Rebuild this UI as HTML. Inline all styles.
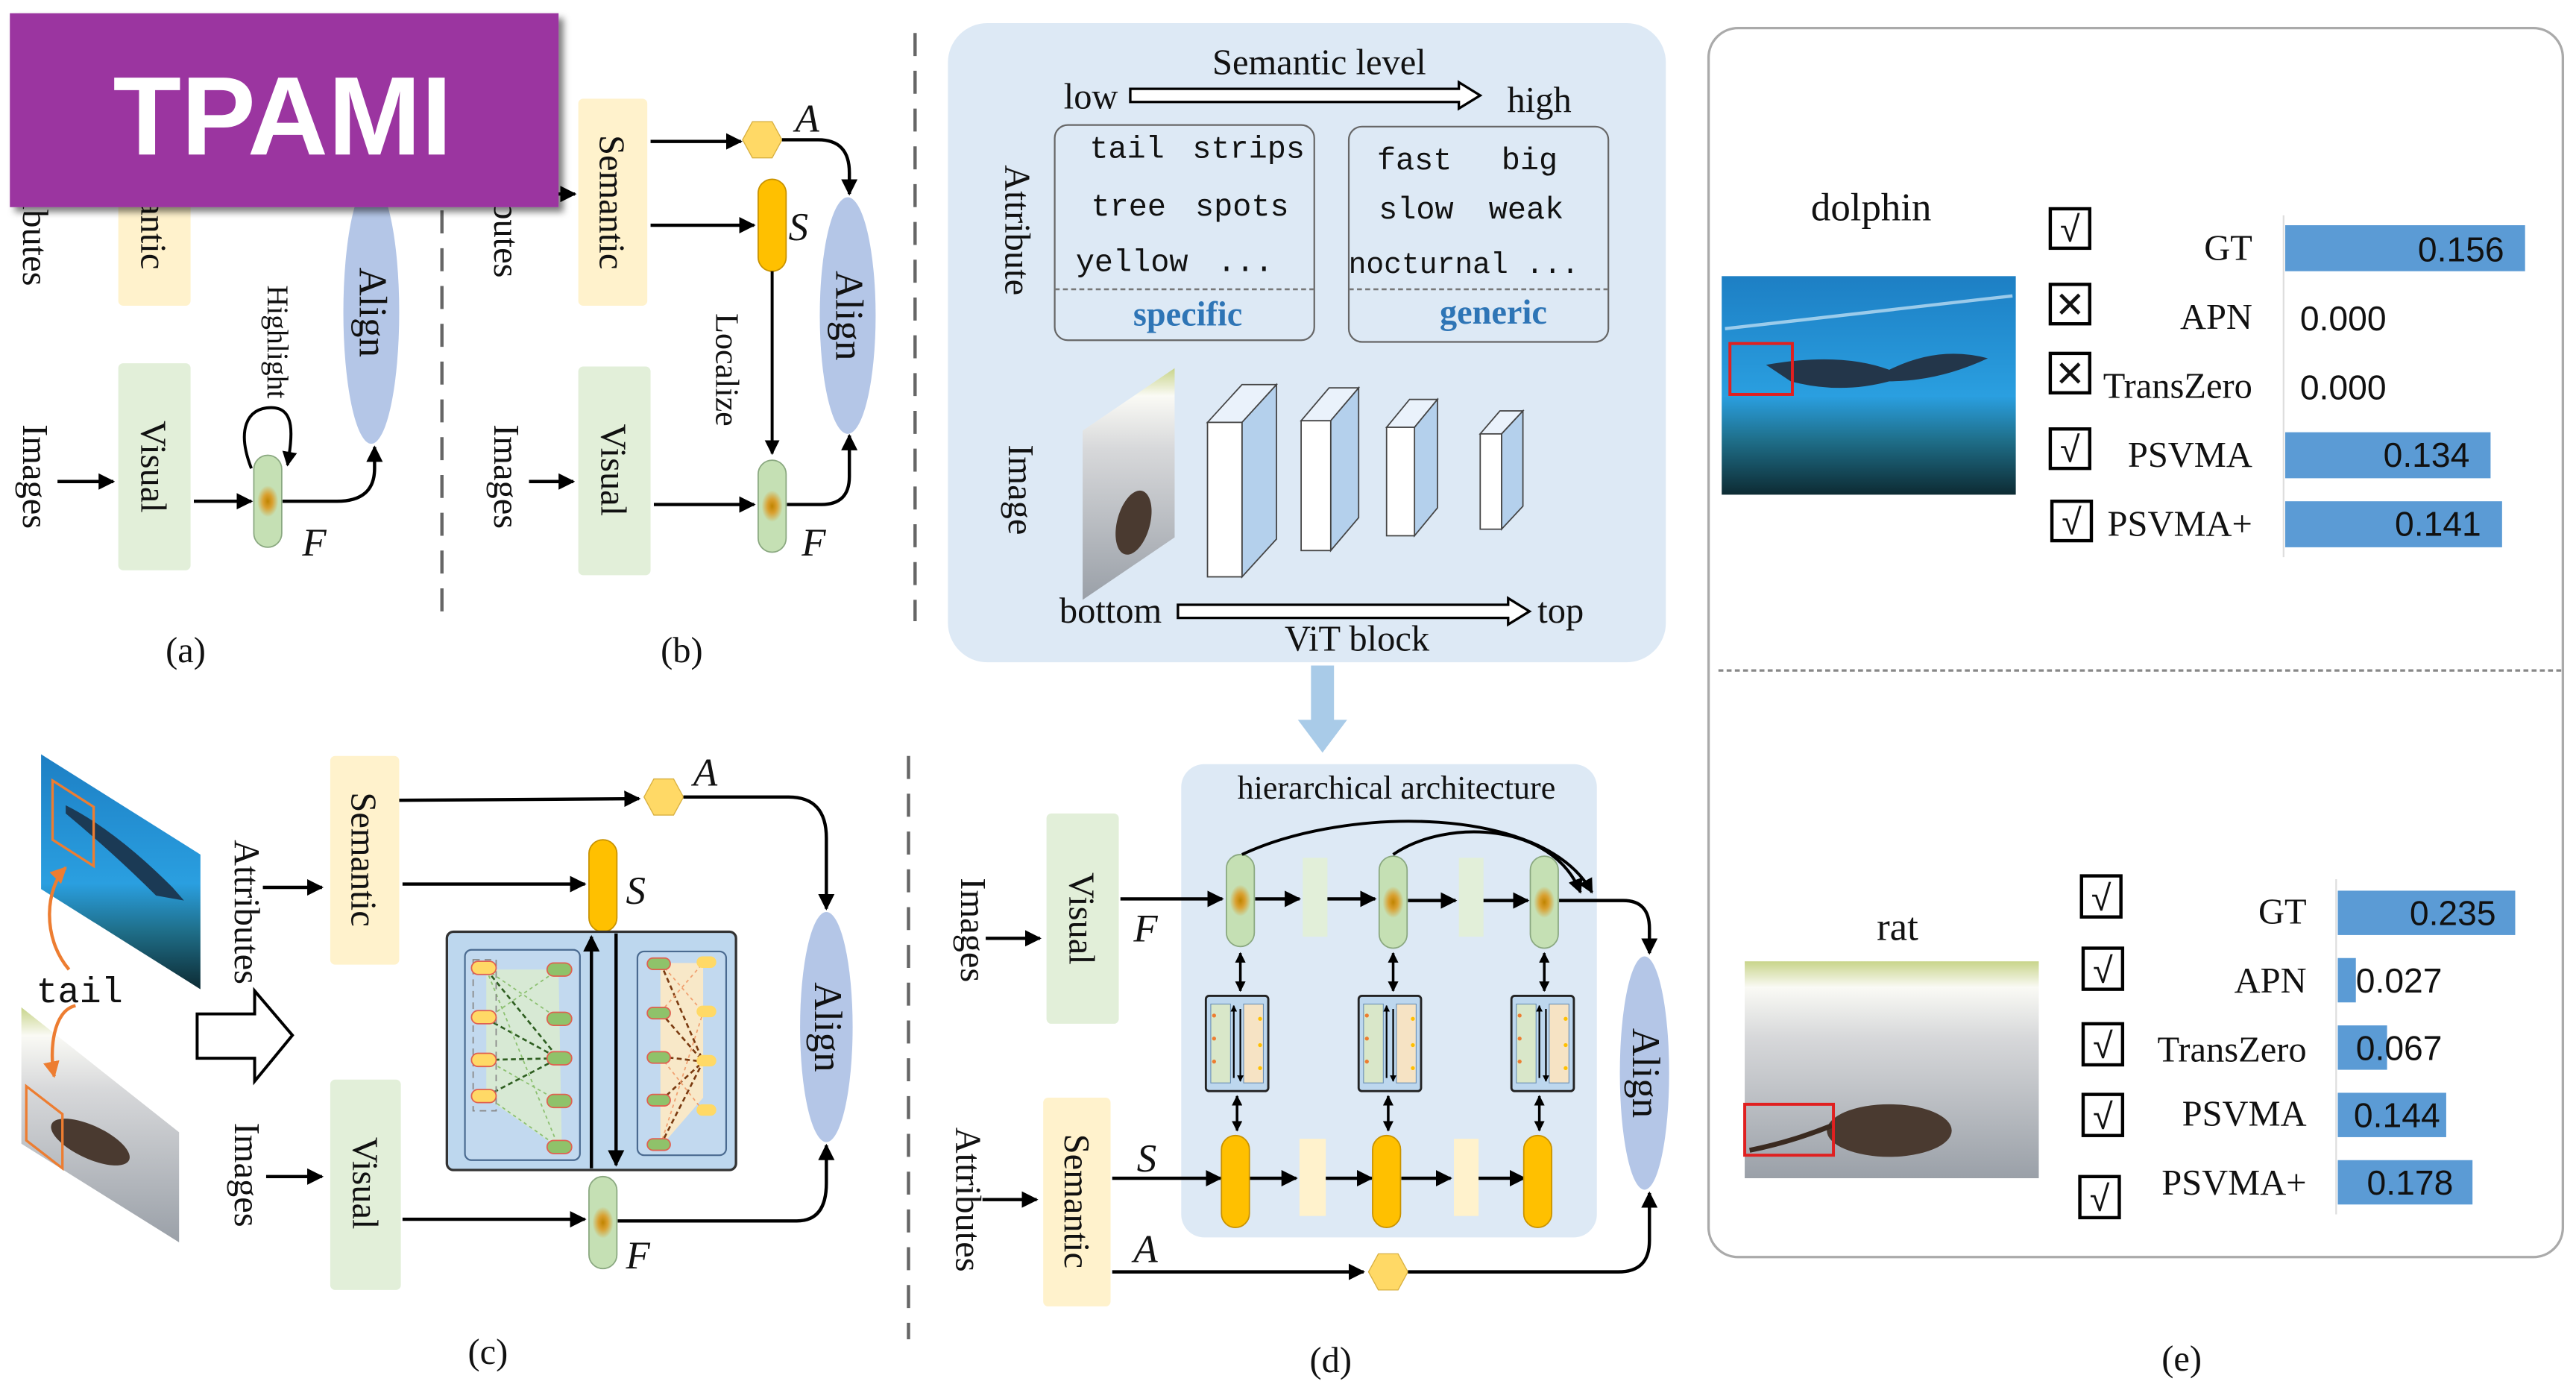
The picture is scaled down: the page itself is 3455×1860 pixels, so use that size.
<!DOCTYPE html>
<html><head><meta charset="utf-8"><style>
html,body{margin:0;padding:0;background:#fff;}
svg{display:block;}
text{font-family:"Liberation Serif",serif;fill:#111;}
.m{font-family:"Liberation Mono",monospace;}
.s{font-family:"Liberation Sans",sans-serif;}
.i{font-style:italic;}
</style></head><body>
<svg width="3455" height="1860" viewBox="0 0 1568 844" xmlns="http://www.w3.org/2000/svg">
<defs>
<marker id="ar" viewBox="0 0 10 10" refX="9" refY="5" markerWidth="5" markerHeight="5" orient="auto-start-reverse"><path d="M0,0L10,5L0,10z" fill="#000"/></marker>
<marker id="ars" viewBox="0 0 10 10" refX="9" refY="5" markerWidth="4" markerHeight="4" orient="auto-start-reverse"><path d="M0,0L10,5L0,10z" fill="#000"/></marker>
<marker id="aro" viewBox="0 0 10 10" refX="9" refY="5" markerWidth="5" markerHeight="5" orient="auto"><path d="M0,0L10,5L0,10z" fill="#ed7d31"/></marker>
<radialGradient id="fg" cx="0.5" cy="0.5" r="0.5"><stop offset="0" stop-color="#c08400"/><stop offset="0.35" stop-color="#d9a030"/><stop offset="0.8" stop-color="#c5e0b4"/></radialGradient>
<linearGradient id="dol" x1="0" y1="0" x2="0" y2="1"><stop offset="0" stop-color="#1d7fc4"/><stop offset="0.55" stop-color="#2a9fe0"/><stop offset="0.75" stop-color="#1f6f8a"/><stop offset="1" stop-color="#0d2b33"/></linearGradient>
<linearGradient id="rat" x1="0" y1="0" x2="0" y2="1"><stop offset="0" stop-color="#c8d48a"/><stop offset="0.12" stop-color="#fafaf5"/><stop offset="0.35" stop-color="#d7d8da"/><stop offset="1" stop-color="#9aa0a8"/></linearGradient>
<filter id="sh" x="-5%" y="-5%" width="115%" height="125%"><feDropShadow dx="3" dy="3" stdDeviation="2" flood-color="#000" flood-opacity="0.5"/></filter>
<g id="cF"><rect x="-8.5" y="-28" width="17" height="56" rx="8.5" fill="#c5e0b4" stroke="#8aa880" stroke-width="0.8"/><ellipse cx="0" cy="0" rx="8" ry="12" fill="url(#fg)"/></g>
<g id="cS"><rect x="-8.5" y="-28" width="17" height="56" rx="8.5" fill="#ffc000" stroke="#c89200" stroke-width="0.8"/></g>
<g id="hx"><polygon points="-12,0 -6,-11 6,-11 12,0 6,11 -6,11" fill="#ffd966" stroke="#d8b040" stroke-width="0.6"/></g>
<g id="mod"><rect x="0" y="0" width="38" height="58" rx="2" fill="#bdd7ee" stroke="#222" stroke-width="1.3"/><rect x="3" y="5" width="12" height="48" fill="#d9e7c9" stroke="#6a8fb5" stroke-width="0.5"/><rect x="23" y="5" width="12" height="48" fill="#f6e3c4" stroke="#6a8fb5" stroke-width="0.5"/><circle cx="5" cy="12" r="1.2" fill="#ed7d31"/><circle cx="5" cy="26" r="1.2" fill="#ed7d31"/><circle cx="5" cy="40" r="1.2" fill="#ed7d31"/><circle cx="33" cy="14" r="1.2" fill="#ffc000"/><circle cx="33" cy="30" r="1.2" fill="#ffc000"/><circle cx="33" cy="44" r="1.2" fill="#ffc000"/><line x1="17" y1="50" x2="17" y2="6" stroke="#000" stroke-width="1" marker-end="url(#ars)"/><line x1="21" y1="8" x2="21" y2="52" stroke="#000" stroke-width="1" marker-end="url(#ars)"/></g>
</defs>

<!-- ===== (a) ===== -->
<rect x="72" y="60" width="44" height="126" rx="3" fill="#fff2cc"/>
<text transform="translate(86,123) rotate(90)" font-size="22" text-anchor="middle">Semantic</text>
<text transform="translate(14,130) rotate(90)" font-size="22" text-anchor="middle">Attributes</text>
<rect x="72" y="221" width="44" height="126" rx="3" fill="#e2efd9"/>
<text transform="translate(86,284) rotate(90)" font-size="22" text-anchor="middle">Visual</text>
<text transform="translate(14,290) rotate(90)" font-size="22" text-anchor="middle">Images</text>
<line x1="35" y1="293" x2="69" y2="293" stroke="#000" stroke-width="2" marker-end="url(#ar)"/>
<line x1="118" y1="305" x2="153" y2="305" stroke="#000" stroke-width="2" marker-end="url(#ar)"/>
<use href="#cF" x="163" y="305"/>
<path d="M172,305 L205,305 Q228,305 228,285 L228,272" fill="none" stroke="#000" stroke-width="2" marker-end="url(#ar)"/>
<path d="M153,285 C144,262 150,248 165,248 C180,248 178,265 175,283" fill="none" stroke="#000" stroke-width="1.8" marker-end="url(#ar)"/>
<text transform="translate(163,208) rotate(90)" font-size="18" text-anchor="middle">Highlight</text>
<ellipse cx="226" cy="190" rx="17" ry="80" fill="#b4c6e7"/>
<text transform="translate(219,190) rotate(90)" font-size="24" text-anchor="middle">Align</text>
<text x="184" y="338" font-size="24" class="i">F</text>
<text x="113" y="403" font-size="22" text-anchor="middle">(a)</text>
<line x1="269" y1="128" x2="269" y2="374" stroke="#666" stroke-width="2" stroke-dasharray="14,9"/>

<!-- ===== (b) ===== -->
<line x1="338" y1="118" x2="350" y2="118" stroke="#000" stroke-width="2" marker-end="url(#ar)"/>
<rect x="352" y="60" width="42" height="126" rx="3" fill="#fff2cc"/>
<text transform="translate(365,123) rotate(90)" font-size="22" text-anchor="middle">Semantic</text>
<text transform="translate(301,125) rotate(90)" font-size="22" text-anchor="middle">Attributes</text>
<rect x="352" y="223" width="44" height="127" rx="3" fill="#e2efd9"/>
<text transform="translate(366,286) rotate(90)" font-size="22" text-anchor="middle">Visual</text>
<text transform="translate(301,290) rotate(90)" font-size="22" text-anchor="middle">Images</text>
<line x1="322" y1="293" x2="349" y2="293" stroke="#000" stroke-width="2" marker-end="url(#ar)"/>
<line x1="396" y1="86" x2="451" y2="86" stroke="#000" stroke-width="2" marker-end="url(#ar)"/>
<use href="#hx" x="464" y="85"/>
<text x="484" y="80" font-size="24" class="i">A</text>
<line x1="396" y1="137" x2="459" y2="137" stroke="#000" stroke-width="2" marker-end="url(#ar)"/>
<use href="#cS" x="470" y="137"/>
<text x="480" y="146" font-size="24" class="i">S</text>
<line x1="470" y1="165" x2="470" y2="276" stroke="#000" stroke-width="1.8" marker-end="url(#ar)"/>
<text transform="translate(436,225) rotate(90)" font-size="20" text-anchor="middle">Localize</text>
<line x1="398" y1="307" x2="459" y2="307" stroke="#000" stroke-width="2" marker-end="url(#ar)"/>
<use href="#cF" x="470" y="308"/>
<path d="M476,85 L498,85 Q517,85 517,105 L517,118" fill="none" stroke="#000" stroke-width="2" marker-end="url(#ar)"/>
<path d="M479,307 L500,307 Q517,307 517,290 L517,265" fill="none" stroke="#000" stroke-width="2" marker-end="url(#ar)"/>
<ellipse cx="516" cy="192" rx="17" ry="72" fill="#b4c6e7"/>
<text transform="translate(509,192) rotate(90)" font-size="24" text-anchor="middle">Align</text>
<text x="488" y="338" font-size="24" class="i">F</text>
<text x="415" y="403" font-size="22" text-anchor="middle">(b)</text>
<line x1="557" y1="20" x2="557" y2="378" stroke="#666" stroke-width="2" stroke-dasharray="14,9"/>

<!-- TPAMI banner -->
<rect x="6" y="8" width="334" height="118" fill="#9b35a0" filter="url(#sh)"/>
<text x="172" y="94" font-size="68" font-weight="bold" text-anchor="middle" class="s" style="fill:#fff">TPAMI</text>

<!-- ===== (c) ===== -->
<polygon points="25,459 122,520 122,602 25,541" fill="url(#dol)"/>
<path d="M40,490 Q70,505 105,540 L112,548 L95,545 Q70,520 40,495z" fill="#1b3a55"/>
<polygon points="32,475 57,491 57,527 32,511" fill="none" stroke="#ed7d31" stroke-width="1.5"/>
<polygon points="13,613 109,689 109,756 13,696" fill="url(#rat)"/>
<ellipse cx="55" cy="695" rx="26" ry="10" transform="rotate(25 55 695)" fill="#4a3a30"/>
<polygon points="16,661 38,678 38,711 16,694" fill="none" stroke="#ed7d31" stroke-width="1.5"/>
<text x="22" y="610" font-size="22" class="m">tail</text>
<path d="M42,590 C25,570 28,540 40,528" fill="none" stroke="#ed7d31" stroke-width="2" marker-end="url(#aro)"/>
<path d="M46,612 C32,615 30,640 33,655" fill="none" stroke="#ed7d31" stroke-width="2" marker-end="url(#aro)"/>
<text transform="translate(143,555) rotate(90)" font-size="22" text-anchor="middle">Attributes</text>
<line x1="160" y1="540" x2="196" y2="540" stroke="#000" stroke-width="2" marker-end="url(#ar)"/>
<rect x="201" y="460" width="42" height="127" rx="3" fill="#fff2cc"/>
<text transform="translate(214,523) rotate(90)" font-size="22" text-anchor="middle">Semantic</text>
<polygon points="120,617 155,617 155,603 178,630 155,658 155,644 120,644" fill="#fff" stroke="#000" stroke-width="1.8"/>
<text transform="translate(143,715) rotate(90)" font-size="22" text-anchor="middle">Images</text>
<line x1="162" y1="716" x2="196" y2="716" stroke="#000" stroke-width="2" marker-end="url(#ar)"/>
<rect x="201" y="657" width="43" height="128" rx="3" fill="#e2efd9"/>
<text transform="translate(215,720) rotate(90)" font-size="22" text-anchor="middle">Visual</text>
<line x1="243" y1="487" x2="389" y2="486" stroke="#000" stroke-width="2" marker-end="url(#ar)"/>
<use href="#hx" x="404" y="485"/>
<text x="422" y="478" font-size="24" class="i">A</text>
<line x1="245" y1="538" x2="356" y2="538" stroke="#000" stroke-width="2" marker-end="url(#ar)"/>
<use href="#cS" x="367" y="539"/>
<text x="381" y="550" font-size="24" class="i">S</text>
<line x1="245" y1="742" x2="356" y2="742" stroke="#000" stroke-width="2" marker-end="url(#ar)"/>
<use href="#cF" x="367" y="744"/>
<text x="381" y="772" font-size="24" class="i">F</text>
<!-- center module -->
<rect x="272" y="567" width="176" height="145" rx="4" fill="#bdd7ee" stroke="#333" stroke-width="1.5"/>
<rect x="283" y="578" width="70" height="128" rx="4" fill="#c2d9ef" stroke="#4a6a90" stroke-width="1"/>
<rect x="388" y="579" width="54" height="124" rx="4" fill="#c2d9ef" stroke="#4a6a90" stroke-width="1"/>
<polygon points="296,590 340,590 342,700 296,668" fill="#d9ead0" opacity="0.9"/>
<g stroke="#2e5e20" stroke-width="1.2" stroke-dasharray="3,2" fill="none"><line x1="296" y1="590" x2="340" y2="644"/><line x1="296" y1="620" x2="340" y2="644"/><line x1="296" y1="645" x2="340" y2="644"/><line x1="296" y1="667" x2="340" y2="644"/></g>
<g stroke="#8cc070" stroke-width="0.8" stroke-dasharray="2,2" fill="none"><line x1="296" y1="590" x2="340" y2="620"/><line x1="296" y1="620" x2="340" y2="590"/><line x1="296" y1="645" x2="340" y2="670"/><line x1="296" y1="667" x2="340" y2="698"/><line x1="296" y1="590" x2="340" y2="698"/></g>
<rect x="288" y="584" width="14" height="92" fill="none" stroke="#888" stroke-dasharray="4,3" stroke-width="0.8"/>
<g fill="#ffd966" stroke="#e06050" stroke-width="0.8"><rect x="287" y="585" width="15" height="8" rx="4"/><rect x="287" y="615" width="15" height="8" rx="4"/><rect x="287" y="641" width="15" height="8" rx="4"/><rect x="287" y="663" width="15" height="8" rx="4"/></g>
<g fill="#8fc26a" stroke="#e06050" stroke-width="0.8"><rect x="333" y="586" width="15" height="8" rx="4"/><rect x="333" y="616" width="15" height="8" rx="4"/><rect x="333" y="640" width="15" height="8" rx="4"/><rect x="333" y="666" width="15" height="8" rx="4"/><rect x="333" y="694" width="15" height="8" rx="4"/></g>
<polygon points="402,586 428,586 428,668 402,698" fill="#f8e8c8"/>
<g stroke="#7a3a10" stroke-width="1.2" stroke-dasharray="3,2" fill="none"><line x1="402" y1="586" x2="428" y2="646"/><line x1="402" y1="616" x2="428" y2="646"/><line x1="402" y1="643" x2="428" y2="646"/><line x1="402" y1="670" x2="428" y2="646"/><line x1="402" y1="697" x2="428" y2="646"/></g>
<g stroke="#f0a070" stroke-width="0.8" stroke-dasharray="2,2" fill="none"><line x1="402" y1="586" x2="428" y2="616"/><line x1="402" y1="616" x2="428" y2="586"/><line x1="402" y1="643" x2="428" y2="676"/><line x1="402" y1="697" x2="428" y2="616"/></g>
<g fill="#8fc26a" stroke="#e06050" stroke-width="0.8"><rect x="394" y="583" width="14" height="7" rx="3.5"/><rect x="394" y="613" width="14" height="7" rx="3.5"/><rect x="394" y="640" width="14" height="7" rx="3.5"/><rect x="394" y="666" width="14" height="7" rx="3.5"/><rect x="394" y="693" width="14" height="7" rx="3.5"/></g>
<g fill="#ffd966"><rect x="424" y="582" width="12" height="7" rx="3.5"/><rect x="424" y="612" width="12" height="7" rx="3.5"/><rect x="424" y="642" width="12" height="7" rx="3.5"/><rect x="424" y="672" width="12" height="7" rx="3.5"/></g>
<line x1="360" y1="711" x2="360" y2="570" stroke="#000" stroke-width="2" marker-end="url(#ar)"/>
<line x1="375" y1="568" x2="375" y2="709" stroke="#000" stroke-width="2" marker-end="url(#ar)"/>
<path d="M416,485 L480,485 Q503,485 503,510 L503,553" fill="none" stroke="#000" stroke-width="2" marker-end="url(#ar)"/>
<path d="M376,743 L485,743 Q503,743 503,720 L503,697" fill="none" stroke="#000" stroke-width="2" marker-end="url(#ar)"/>
<ellipse cx="503" cy="625" rx="16" ry="70" fill="#b4c6e7"/>
<text transform="translate(496,625) rotate(90)" font-size="24" text-anchor="middle">Align</text>
<text x="297" y="830" font-size="22" text-anchor="middle">(c)</text>
<line x1="553" y1="460" x2="553" y2="815" stroke="#666" stroke-width="2" stroke-dasharray="14,9"/>

<!-- ===== (d) top ===== -->
<rect x="577" y="14" width="437" height="389" rx="24" fill="#dde9f5"/>
<text x="803" y="45" font-size="22" text-anchor="middle">Semantic level</text>
<text x="664" y="66" font-size="22" text-anchor="middle">low</text>
<polygon points="688,54 888,54 888,50 901,58 888,66 888,62 688,62" fill="#fff" stroke="#000" stroke-width="1.5"/>
<text x="937" y="68" font-size="22" text-anchor="middle">high</text>
<text transform="translate(612,140) rotate(90)" font-size="22" text-anchor="middle">Attribute</text>
<rect x="642" y="76" width="158" height="131" rx="8" fill="none" stroke="#666" stroke-width="1"/>
<rect x="821" y="77" width="158" height="131" rx="8" fill="none" stroke="#666" stroke-width="1"/>
<line x1="642" y1="176" x2="800" y2="176" stroke="#777" stroke-dasharray="3,2" stroke-width="1.2"/>
<line x1="821" y1="176" x2="979" y2="176" stroke="#777" stroke-dasharray="3,2" stroke-width="1.2"/>
<g class="m" font-size="19" text-anchor="middle">
<text x="686" y="96" class="m">tail</text><text x="760" y="96" class="m">strips</text>
<text x="687" y="131" class="m">tree</text><text x="756" y="131" class="m">spots</text>
<text x="689" y="165" class="m">yellow</text><text x="758" y="165" class="m">...</text>
<text x="861" y="103" class="m">fast</text><text x="931" y="103" class="m">big</text>
<text x="862" y="133" class="m">slow</text><text x="929" y="133" class="m">weak</text>
<text x="891" y="166" class="m" font-size="18">nocturnal ...</text>
</g>
<text x="723" y="198" font-size="21" font-weight="bold" text-anchor="middle" style="fill:#2e75b6">specific</text>
<text x="909" y="197" font-size="21" font-weight="bold" text-anchor="middle" style="fill:#2e75b6">generic</text>
<text transform="translate(614,298) rotate(90)" font-size="22" text-anchor="middle">Image</text>
<polygon points="659,262 715,224 715,327 659,365" fill="url(#rat)"/>
<ellipse cx="690" cy="318" rx="10" ry="20" transform="rotate(15 690 318)" fill="#4a3a30"/>
<g stroke="#444" stroke-width="0.8">
<polygon points="735,257 756,234 777,234 756,257" fill="#eaf2fb"/><polygon points="756,257 777,234 777,328 756,351" fill="#b4d0ec"/><rect x="735" y="257" width="21" height="94" fill="#fff"/>
<polygon points="792,256 809,236 827,236 810,256" fill="#eaf2fb"/><polygon points="810,256 827,236 827,315 810,335" fill="#b4d0ec"/><rect x="792" y="256" width="18" height="79" fill="#fff"/>
<polygon points="844,260 858,243 875,243 861,260" fill="#eaf2fb"/><polygon points="861,260 875,243 875,309 861,326" fill="#b4d0ec"/><rect x="844" y="260" width="17" height="66" fill="#fff"/>
<polygon points="901,264 913,250 927,250 914,264" fill="#eaf2fb"/><polygon points="914,264 927,250 927,308 914,322" fill="#b4d0ec"/><rect x="901" y="264" width="13" height="58" fill="#fff"/>
</g>
<text x="676" y="379" font-size="22" text-anchor="middle">bottom</text>
<polygon points="717,368 918,368 918,364 931,372 918,380 918,376 717,376" fill="#fff" stroke="#000" stroke-width="1.5"/>
<text x="950" y="379" font-size="22" text-anchor="middle">top</text>
<text x="826" y="396" font-size="22" text-anchor="middle">ViT block</text>
<polygon points="798,405 812,405 812,438 820,438 805,458 790,438 798,438" fill="#a9cbe8"/>

<!-- ===== (d) bottom ===== -->
<rect x="719" y="465" width="253" height="288" rx="14" fill="#dde9f5"/>
<text x="850" y="486" font-size="20" text-anchor="middle">hierarchical architecture</text>
<rect x="637" y="495" width="44" height="128" rx="3" fill="#e2efd9"/>
<text transform="translate(651,559) rotate(90)" font-size="22" text-anchor="middle">Visual</text>
<text transform="translate(585,566) rotate(90)" font-size="22" text-anchor="middle">Images</text>
<line x1="600" y1="571" x2="633" y2="571" stroke="#000" stroke-width="2" marker-end="url(#ar)"/>
<rect x="635" y="668" width="41" height="127" rx="3" fill="#fff2cc"/>
<text transform="translate(648,731) rotate(90)" font-size="22" text-anchor="middle">Semantic</text>
<text transform="translate(582,730) rotate(90)" font-size="22" text-anchor="middle">Attributes</text>
<line x1="598" y1="730" x2="631" y2="730" stroke="#000" stroke-width="2" marker-end="url(#ar)"/>
<rect x="793" y="522" width="15" height="48" fill="#e2efd9"/>
<rect x="888" y="522" width="15" height="48" fill="#e2efd9"/>
<rect x="791" y="693" width="16" height="47" fill="#fff2cc"/>
<rect x="885" y="693" width="15" height="47" fill="#fff2cc"/>
<line x1="682" y1="547" x2="744" y2="547" stroke="#000" stroke-width="2" marker-end="url(#ar)"/>
<line x1="764" y1="547" x2="791" y2="547" stroke="#000" stroke-width="2" marker-end="url(#ar)"/>
<line x1="808" y1="547" x2="837" y2="547" stroke="#000" stroke-width="2" marker-end="url(#ar)"/>
<line x1="857" y1="548" x2="886" y2="548" stroke="#000" stroke-width="2" marker-end="url(#ar)"/>
<line x1="903" y1="548" x2="930" y2="548" stroke="#000" stroke-width="2" marker-end="url(#ar)"/>
<use href="#cF" x="755" y="548"/>
<use href="#cF" x="848" y="549"/>
<use href="#cF" x="940" y="549"/>
<line x1="677" y1="717" x2="743" y2="717" stroke="#000" stroke-width="2" marker-end="url(#ar)"/>
<line x1="760" y1="717" x2="789" y2="717" stroke="#000" stroke-width="2" marker-end="url(#ar)"/>
<line x1="807" y1="717" x2="835" y2="717" stroke="#000" stroke-width="2" marker-end="url(#ar)"/>
<line x1="853" y1="717" x2="883" y2="717" stroke="#000" stroke-width="2" marker-end="url(#ar)"/>
<line x1="900" y1="717" x2="928" y2="717" stroke="#000" stroke-width="2" marker-end="url(#ar)"/>
<use href="#cS" x="752" y="719"/>
<use href="#cS" x="844" y="719"/>
<use href="#cS" x="936" y="719"/>
<use href="#mod" x="734" y="606"/>
<use href="#mod" x="827" y="606"/>
<use href="#mod" x="920" y="606"/>
<g stroke="#000" stroke-width="1.6" fill="none">
<line x1="755" y1="580" x2="755" y2="603" marker-start="url(#ars)" marker-end="url(#ars)"/>
<line x1="848" y1="580" x2="848" y2="603" marker-start="url(#ars)" marker-end="url(#ars)"/>
<line x1="940" y1="580" x2="940" y2="603" marker-start="url(#ars)" marker-end="url(#ars)"/>
<line x1="753" y1="667" x2="753" y2="688" marker-start="url(#ars)" marker-end="url(#ars)"/>
<line x1="845" y1="667" x2="845" y2="688" marker-start="url(#ars)" marker-end="url(#ars)"/>
<line x1="937" y1="667" x2="937" y2="688" marker-start="url(#ars)" marker-end="url(#ars)"/>
</g>
<path d="M756,520 C820,490 940,490 969,543" fill="none" stroke="#000" stroke-width="1.8" marker-end="url(#ar)"/>
<path d="M848,520 C880,498 945,500 962,543" fill="none" stroke="#000" stroke-width="1.8" marker-end="url(#ar)"/>
<path d="M949,548 L988,548 Q1004,548 1004,565 L1004,580" fill="none" stroke="#000" stroke-width="2" marker-end="url(#ar)"/>
<text x="690" y="573" font-size="24" class="i">F</text>
<text x="692" y="713" font-size="24" class="i">S</text>
<line x1="677" y1="774" x2="830" y2="774" stroke="#000" stroke-width="2" marker-end="url(#ar)"/>
<use href="#hx" x="845" y="774"/>
<path d="M857,774 L985,774 Q1004,774 1004,755 L1004,726" fill="none" stroke="#000" stroke-width="2" marker-end="url(#ar)"/>
<text x="690" y="768" font-size="24" class="i">A</text>
<ellipse cx="1001" cy="653" rx="15" ry="71" fill="#b4c6e7"/>
<text transform="translate(994,653) rotate(90)" font-size="24" text-anchor="middle">Align</text>
<text x="810" y="835" font-size="22" text-anchor="middle">(d)</text>

<!-- ===== (e) ===== -->
<rect x="1040" y="17" width="520" height="748" rx="18" fill="#fff" stroke="#aaa" stroke-width="1.5"/>
<line x1="1046" y1="408" x2="1560" y2="408" stroke="#888" stroke-width="1.5" stroke-dasharray="3,2"/>
<text x="1139" y="134" font-size="24" text-anchor="middle">dolphin</text>
<rect x="1048" y="168" width="179" height="133" fill="url(#dol)"/>
<line x1="1050" y1="200" x2="1225" y2="180" stroke="#cfe8f8" stroke-width="2" opacity="0.7"/>
<path d="M1075,222 Q1120,214 1150,225 Q1180,210 1210,218 Q1180,232 1150,232 Q1120,240 1090,232z" fill="#23364a"/>
<rect x="1053" y="209" width="38" height="31" fill="none" stroke="#e02020" stroke-width="1.8"/>
<g font-size="22" text-anchor="end"><text x="1371" y="158">GT</text><text x="1371" y="200">APN</text><text x="1371" y="242">TransZero</text><text x="1371" y="284">PSVMA</text><text x="1371" y="326">PSVMA+</text></g>
<g fill="none" stroke="#000" stroke-width="2"><rect x="1248" y="127" width="24" height="24"/><rect x="1248" y="173" width="24" height="24"/><rect x="1248" y="215" width="24" height="24"/><rect x="1248" y="261" width="24" height="24"/><rect x="1249" y="305" width="24" height="24"/></g>
<g font-size="22" class="s" text-anchor="middle"><text x="1260" y="147" class="s">√</text><text x="1260" y="193" class="s">✕</text><text x="1260" y="235" class="s">✕</text><text x="1260" y="281" class="s">√</text><text x="1261" y="325" class="s">√</text></g>
<line x1="1390" y1="131" x2="1390" y2="339" stroke="#ddd" stroke-width="1"/>
<rect x="1391" y="137" width="146" height="28" fill="#5b9bd5"/>
<rect x="1391" y="263" width="125" height="28" fill="#5b9bd5"/>
<rect x="1391" y="305" width="132" height="28" fill="#5b9bd5"/>
<g font-size="21" class="s"><text x="1498" y="159" text-anchor="middle" class="s">0.156</text><text x="1400" y="201" class="s">0.000</text><text x="1400" y="243" class="s">0.000</text><text x="1477" y="284" text-anchor="middle" class="s">0.134</text><text x="1484" y="326" text-anchor="middle" class="s">0.141</text></g>

<text x="1155" y="572" font-size="24" text-anchor="middle">rat</text>
<rect x="1062" y="585" width="179" height="132" fill="url(#rat)"/>
<ellipse cx="1150" cy="688" rx="38" ry="16" fill="#4a3a30"/>
<path d="M1065,700 Q1090,695 1115,685" stroke="#3a2a20" stroke-width="3" fill="none"/>
<rect x="1062" y="672" width="54" height="31" fill="none" stroke="#e02020" stroke-width="1.8"/>
<g font-size="22" text-anchor="end"><text x="1404" y="562">GT</text><text x="1404" y="604">APN</text><text x="1404" y="646">TransZero</text><text x="1404" y="685">PSVMA</text><text x="1404" y="727">PSVMA+</text></g>
<g fill="none" stroke="#000" stroke-width="2"><rect x="1267" y="533" width="24" height="25"/><rect x="1268" y="577" width="24" height="25"/><rect x="1268" y="623" width="24" height="25"/><rect x="1268" y="666" width="24" height="25"/><rect x="1266" y="716" width="24" height="25"/></g>
<g font-size="22" class="s" text-anchor="middle"><text x="1279" y="554" class="s">√</text><text x="1280" y="598" class="s">√</text><text x="1280" y="644" class="s">√</text><text x="1280" y="687" class="s">√</text><text x="1278" y="737" class="s">√</text></g>
<line x1="1422" y1="535" x2="1422" y2="739" stroke="#ddd" stroke-width="1"/>
<rect x="1423" y="542" width="108" height="27" fill="#5b9bd5"/>
<rect x="1423" y="583" width="11" height="27" fill="#5b9bd5"/>
<rect x="1423" y="624" width="30" height="27" fill="#5b9bd5"/>
<rect x="1423" y="665" width="66" height="27" fill="#5b9bd5"/>
<rect x="1423" y="706" width="82" height="27" fill="#5b9bd5"/>
<g font-size="21" class="s"><text x="1493" y="563" text-anchor="middle" class="s">0.235</text><text x="1434" y="604" class="s">0.027</text><text x="1434" y="645" class="s">0.067</text><text x="1459" y="686" text-anchor="middle" class="s">0.144</text><text x="1467" y="727" text-anchor="middle" class="s">0.178</text></g>
<text x="1328" y="834" font-size="22" text-anchor="middle">(e)</text>
</svg>
</body></html>
